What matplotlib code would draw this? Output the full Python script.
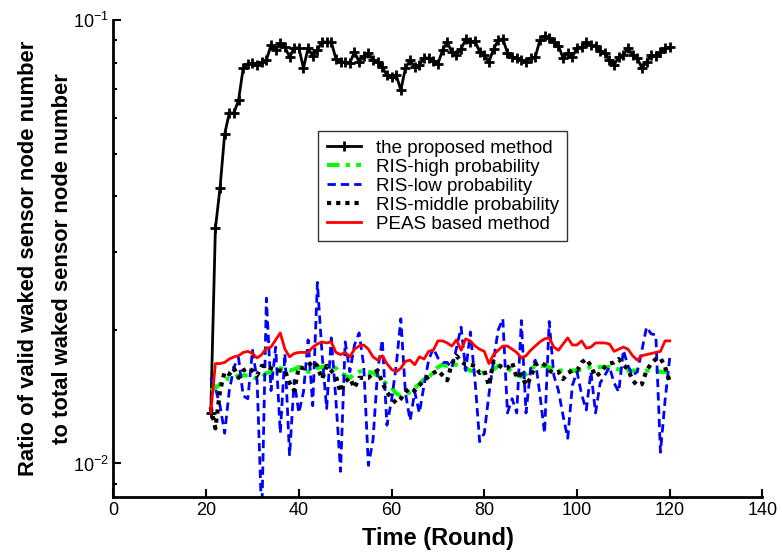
import matplotlib
matplotlib.use("Agg")
import matplotlib.pyplot as plt
from matplotlib.ticker import LogLocator, NullFormatter, FixedLocator
import numpy as np

plt.rcParams['font.family'] = ['Liberation Sans', 'DejaVu Sans']
plt.rcParams['mathtext.default'] = 'regular'

rounds = np.arange(21, 121)

proposed = [
    0.0130, 0.0339, 0.0418, 0.0553, 0.0617, 0.0617, 0.0660, 0.0779, 0.0796, 0.0800,
    0.0792, 0.0804, 0.0812, 0.0878, 0.0856, 0.0887, 0.0869, 0.0825, 0.0865, 0.0865,
    0.0779, 0.0865, 0.0829, 0.0856, 0.0892, 0.0892, 0.0892, 0.0817, 0.0804, 0.0804,
    0.0800, 0.0847, 0.0804, 0.0829, 0.0843, 0.0812, 0.0804, 0.0783, 0.0751, 0.0744,
    0.0751, 0.0695, 0.0779, 0.0812, 0.0783, 0.0792, 0.0821, 0.0821, 0.0808, 0.0796,
    0.0856, 0.0892, 0.0847, 0.0834, 0.0860, 0.0906, 0.0892, 0.0897, 0.0847, 0.0834,
    0.0804, 0.0860, 0.0901, 0.0906, 0.0843, 0.0825, 0.0821, 0.0812, 0.0804, 0.0821,
    0.0825, 0.0901, 0.0920, 0.0911, 0.0892, 0.0874, 0.0821, 0.0843, 0.0825, 0.0865,
    0.0869, 0.0892, 0.0878, 0.0874, 0.0851, 0.0843, 0.0812, 0.0792, 0.0825, 0.0834,
    0.0865, 0.0834, 0.0821, 0.0779, 0.0804, 0.0834, 0.0829, 0.0847, 0.0865, 0.0869,
]

ris_high = [
    0.0146, 0.0148, 0.0151, 0.0154, 0.0156, 0.0156, 0.0158, 0.0158, 0.0158, 0.0157,
    0.0155, 0.0156, 0.0160, 0.0161, 0.0163, 0.0164, 0.0163, 0.0162, 0.0163, 0.0165,
    0.0163, 0.0161, 0.0162, 0.0164, 0.0165, 0.0166, 0.0166, 0.0164, 0.0160, 0.0158,
    0.0156, 0.0159, 0.0161, 0.0162, 0.0161, 0.0160, 0.0158, 0.0154, 0.0151, 0.0148,
    0.0144, 0.0142, 0.0143, 0.0145, 0.0148, 0.0151, 0.0155, 0.0156, 0.0161, 0.0165,
    0.0167, 0.0166, 0.0167, 0.0167, 0.0166, 0.0164, 0.0162, 0.0161, 0.0161, 0.0160,
    0.0161, 0.0163, 0.0166, 0.0166, 0.0164, 0.0161, 0.0158, 0.0157, 0.0159, 0.0163,
    0.0166, 0.0166, 0.0166, 0.0165, 0.0162, 0.0162, 0.0162, 0.0162, 0.0162, 0.0162,
    0.0163, 0.0164, 0.0165, 0.0165, 0.0165, 0.0165, 0.0165, 0.0164, 0.0163, 0.0162,
    0.0162, 0.0162, 0.0162, 0.0162, 0.0162, 0.0162, 0.0162, 0.0161, 0.0161, 0.0160,
]

ris_low = [
    0.0156, 0.0148, 0.0135, 0.0117, 0.0146, 0.0165, 0.0173, 0.0142, 0.0140, 0.0180,
    0.0154, 0.0075, 0.0236, 0.0146, 0.0183, 0.0117, 0.0177, 0.0104, 0.0154, 0.0130,
    0.0145, 0.0190, 0.0135, 0.0256, 0.0177, 0.0133, 0.0192, 0.0139, 0.0096, 0.0188,
    0.0161, 0.0185, 0.0197, 0.0166, 0.0099, 0.0113, 0.0162, 0.0190, 0.0122, 0.0139,
    0.0166, 0.0212, 0.0144, 0.0125, 0.0145, 0.0130, 0.0150, 0.0171, 0.0182, 0.0173,
    0.0169, 0.0169, 0.0164, 0.0182, 0.0203, 0.0162, 0.0198, 0.0154, 0.0112, 0.0117,
    0.0143, 0.0171, 0.0200, 0.0212, 0.0130, 0.0140, 0.0130, 0.0210, 0.0130, 0.0164,
    0.0171, 0.0143, 0.0117, 0.0209, 0.0158, 0.0146, 0.0128, 0.0114, 0.0150, 0.0161,
    0.0143, 0.0132, 0.0161, 0.0130, 0.0152, 0.0158, 0.0165, 0.0152, 0.0145, 0.0180,
    0.0166, 0.0158, 0.0161, 0.0180, 0.0203, 0.0196, 0.0195, 0.0106, 0.0139, 0.0173,
]

ris_middle = [
    0.0134, 0.0120, 0.0146, 0.0161, 0.0159, 0.0164, 0.0156, 0.0162, 0.0164, 0.0162,
    0.0158, 0.0166, 0.0166, 0.0164, 0.0162, 0.0162, 0.0162, 0.0152, 0.0146, 0.0165,
    0.0164, 0.0166, 0.0170, 0.0166, 0.0155, 0.0166, 0.0162, 0.0157, 0.0145, 0.0153,
    0.0156, 0.0148, 0.0156, 0.0156, 0.0156, 0.0160, 0.0162, 0.0152, 0.0145, 0.0140,
    0.0137, 0.0140, 0.0145, 0.0148, 0.0146, 0.0150, 0.0154, 0.0157, 0.0160, 0.0162,
    0.0158, 0.0154, 0.0168, 0.0175, 0.0170, 0.0167, 0.0167, 0.0166, 0.0160, 0.0162,
    0.0150, 0.0170, 0.0167, 0.0164, 0.0164, 0.0169, 0.0156, 0.0159, 0.0150, 0.0156,
    0.0167, 0.0169, 0.0167, 0.0162, 0.0160, 0.0161, 0.0155, 0.0160, 0.0162, 0.0162,
    0.0169, 0.0172, 0.0166, 0.0157, 0.0160, 0.0165, 0.0168, 0.0169, 0.0172, 0.0167,
    0.0163, 0.0154, 0.0150, 0.0151, 0.0162, 0.0168, 0.0172, 0.0173, 0.0165, 0.0153,
]

peas = [
    0.0130, 0.0168, 0.0168, 0.0169, 0.0172, 0.0174, 0.0175, 0.0178, 0.0179, 0.0177,
    0.0173, 0.0176, 0.0182, 0.0183, 0.0190, 0.0197, 0.0181, 0.0174, 0.0177, 0.0178,
    0.0178, 0.0178, 0.0183, 0.0186, 0.0188, 0.0187, 0.0188, 0.0178, 0.0176, 0.0178,
    0.0174, 0.0181, 0.0184, 0.0185, 0.0181, 0.0174, 0.0171, 0.0175, 0.0168, 0.0163,
    0.0161, 0.0164, 0.0170, 0.0171, 0.0167, 0.0174, 0.0172, 0.0179, 0.0180, 0.0189,
    0.0189, 0.0187, 0.0184, 0.0190, 0.0180, 0.0191, 0.0189, 0.0184, 0.0181, 0.0179,
    0.0168, 0.0176, 0.0180, 0.0184, 0.0184, 0.0181, 0.0178, 0.0173, 0.0175, 0.0180,
    0.0184, 0.0188, 0.0191, 0.0192, 0.0183, 0.0180, 0.0186, 0.0192, 0.0185, 0.0185,
    0.0189, 0.0182, 0.0183, 0.0187, 0.0187, 0.0187, 0.0186, 0.0179, 0.0181, 0.0183,
    0.0181, 0.0175, 0.0171, 0.0175, 0.0176, 0.0177, 0.0178, 0.0179, 0.0189, 0.0189,
]

labels = ['the proposed method', 'RIS-high probability', 'RIS-low probability',
          'RIS-middle probability', 'PEAS based method']

fig = plt.figure(figsize=(7.82, 5.56), dpi=100)
ax = fig.add_axes([0.145, 0.106, 0.83, 0.858])

ax.plot(rounds, proposed, color='black', lw=2, marker='+', ms=7, mew=2, label=labels[0])
ax.plot(rounds, ris_high, color=(0, 1, 0), lw=3, ls=(0, (3, 1.5, 1, 1.5)), label=labels[1])
ax.plot(rounds, ris_low, color='blue', lw=2, ls=(0, (3, 1.8)), label=labels[2])
ax.plot(rounds, ris_middle, color='black', lw=3, ls=(0, (1, 1.2)), label=labels[3])
ax.plot(rounds, peas, color='red', lw=2, label=labels[4])

ax.set_yscale('log')
ax.set_ylim(0.0084, 0.1)
ax.set_xlim(0, 140)
ax.set_xticks(np.arange(0, 141, 20))
ax.yaxis.set_major_locator(FixedLocator([0.01, 0.1]))
ax.yaxis.set_minor_locator(LogLocator(base=10, subs=np.arange(2, 10), numticks=10))
ax.yaxis.set_minor_formatter(NullFormatter())

for s in ['top', 'right']:
    ax.spines[s].set_visible(False)
for s in ['left', 'bottom']:
    ax.spines[s].set_linewidth(2)

ax.tick_params(which='both', direction='in', labelsize=13, width=1.5)
ax.tick_params(which='major', length=6)
ax.tick_params(which='minor', length=3)

ax.set_xlabel('Time (Round)', fontsize=17, fontweight='bold', labelpad=6)
ax.set_ylabel('Ratio of valid waked sensor node number\nto total waked sensor node number',
              fontsize=15.8, fontweight='bold', linespacing=1.85)
ax.yaxis.set_label_coords(-0.062, 0.5)

leg = ax.legend(loc='upper left', bbox_to_anchor=(0.316, 0.767), borderaxespad=0,
                fontsize=13.5, frameon=True, fancybox=False, edgecolor='black',
                handlelength=1.8, borderpad=0.45, labelspacing=0.1, handletextpad=0.8)
leg.get_frame().set_linewidth(1)

fig.savefig('out.png', dpi=100)
